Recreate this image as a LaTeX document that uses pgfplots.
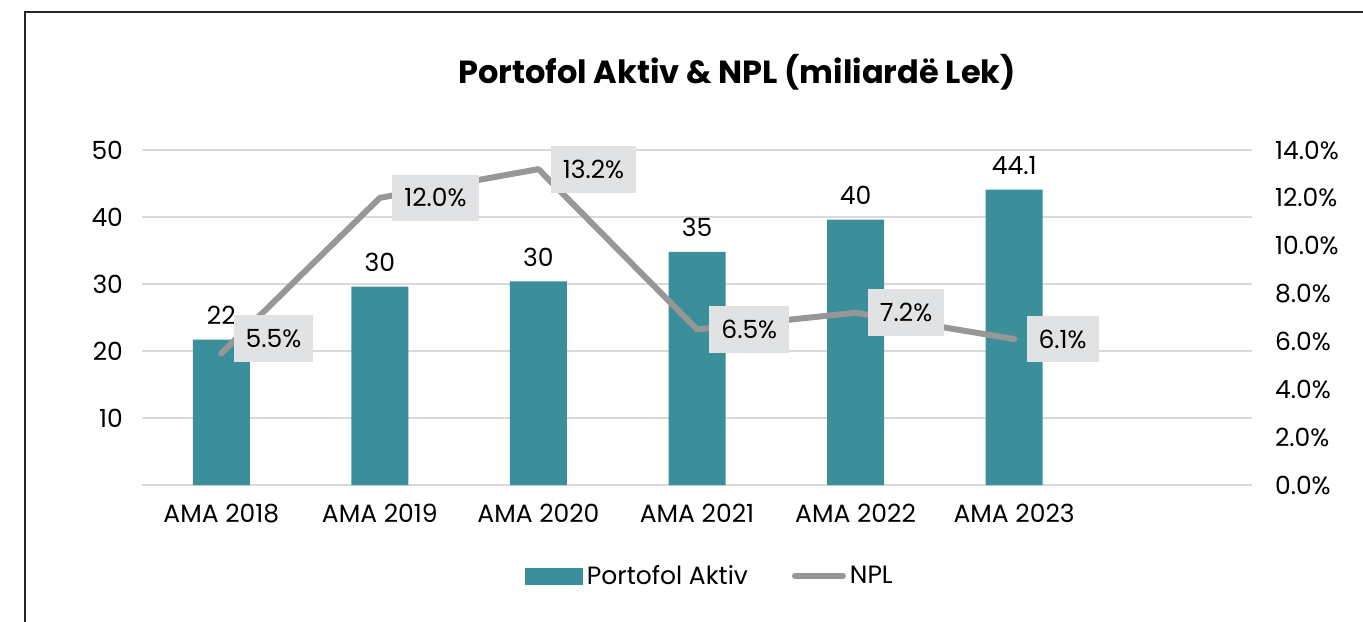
\documentclass[border=0pt]{standalone}
\usepackage{fontspec}
\setmainfont{Poppins}
\usepackage{pgfplots}
\pgfplotsset{compat=1.18}
\definecolor{barcol}{HTML}{3A8F9B}
\definecolor{npl}{HTML}{979797}
\definecolor{lblbox}{HTML}{E1E2E4}
\definecolor{gridc}{HTML}{D9D9D9}
\begin{document}
\begin{tikzpicture}
\useasboundingbox (0,0) rectangle (681.5pt,310.5pt);
\draw[black!85, line width=0.9pt] (12.5pt,-10pt) -- (12.5pt,304.5pt) -- (700pt,304.5pt);
\node[font=\fontsize{16}{18}\selectfont\bfseries] at (368.5pt,274.5pt) {Portofol Aktiv \& NPL (miliardë Lek)};
\begin{axis}[
  at={(71pt,68pt)}, anchor=south west,
  scale only axis, width=555pt, height=167.5pt,
  xmin=-0.5, xmax=6.5, ymin=0, ymax=50,
  xtick={0,1,2,3,4,5},
  xticklabels={AMA 2018,AMA 2019,AMA 2020,AMA 2021,AMA 2022,AMA 2023},
  ytick={0,10,20,30,40,50},
  yticklabels={,10,20,30,40,50},
  ymajorgrids, grid style={gridc, line width=1pt},
  axis line style={draw=none}, major tick style={draw=none},
  tick label style={font=\fontsize{12.5}{14}\selectfont},
  yticklabel style={xshift=-6pt},
  xticklabel style={yshift=-6pt},
  clip=false,
]
\addplot[ybar, bar width=28.5pt, fill=barcol, draw=none,
  point meta=explicit symbolic,
  nodes near coords,
  every node near coord/.append style={font=\fontsize{12.5}{14}\selectfont, text=black, yshift=4pt}]
  coordinates {(0,21.7)[22] (1,29.6)[30] (2,30.4)[30] (3,34.8)[35] (4,39.6)[40] (5,44.1)[44.1]};
\end{axis}
\begin{axis}[
  at={(71pt,68pt)}, anchor=south west,
  scale only axis, width=555pt, height=167.5pt,
  xmin=-0.5, xmax=6.5, ymin=0, ymax=14,
  hide x axis,
  axis y line*=right,
  ytick={0,2,4,6,8,10,12,14},
  yticklabels={0.0\%,2.0\%,4.0\%,6.0\%,8.0\%,10.0\%,12.0\%,14.0\%},
  axis line style={draw=none}, major tick style={draw=none},
  tick label style={font=\fontsize{12.5}{14}\selectfont},
  yticklabel style={xshift=8pt},
  clip=false,
  legend style={at={(0.5126,-0.2716)}, anchor=center, draw=none, fill=none,
    legend columns=2, font=\fontsize{12.5}{14}\selectfont,
    /tikz/every even column/.append style={column sep=20pt}},
  legend cell align=left,
]
\addlegendimage{legend image code/.code={\fill[barcol] (0pt,-4pt) rectangle (28.5pt,4pt);}}
\addlegendentry{Portofol Aktiv}
\addplot[npl, line width=3pt, line cap=round, line join=round, mark=none,
  legend image code/.code={\draw[npl, line width=3pt, line cap=round] (0pt,0pt) -- (24pt,0pt);}]
  coordinates {(0,5.5) (1,12.0) (2,13.2) (3,6.5) (4,7.2) (5,6.1)};
\addlegendentry{NPL}
\addplot[draw=none, mark=none, forget plot,
  point meta=explicit symbolic, nodes near coords,
  every node near coord/.append style={anchor=west, fill=lblbox, inner xsep=6pt, inner ysep=7pt,
    font=\fontsize{12.5}{14}\selectfont, text=black, xshift=6pt}]
  coordinates {(1,12.0)[12.0\%] (2,13.2)[13.2\%] (3,6.5)[6.5\%] (4,7.2)[7.2\%] (5,6.1)[6.1\%]};
\addplot[draw=none, mark=none, forget plot,
  point meta=explicit symbolic, nodes near coords,
  every node near coord/.append style={anchor=west, fill=lblbox, inner xsep=6pt, inner ysep=7pt,
    font=\fontsize{12.5}{14}\selectfont, text=black, xshift=6pt, yshift=7.5pt}]
  coordinates {(0,5.5)[5.5\%]};
\end{axis}
\end{tikzpicture}
\end{document}
